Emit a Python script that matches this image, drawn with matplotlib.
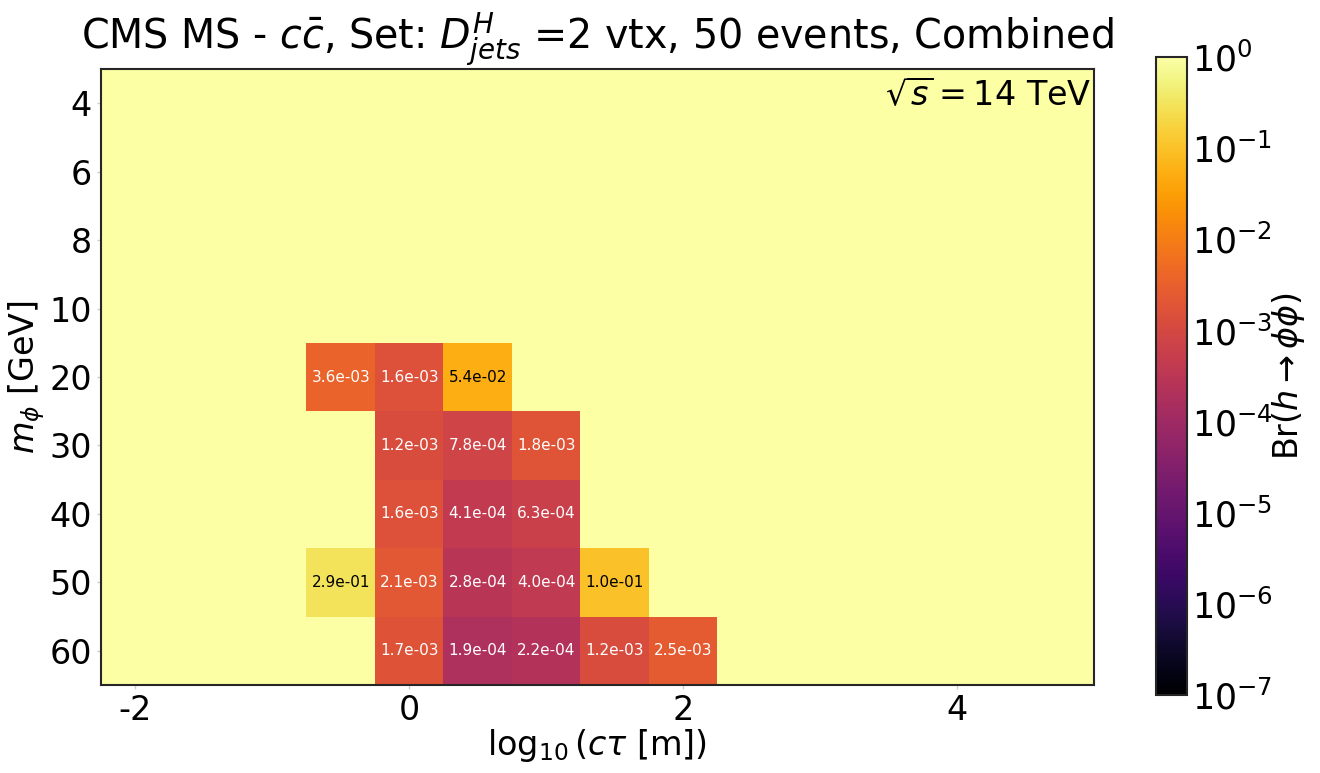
import numpy as np
import matplotlib
matplotlib.use("Agg")
import matplotlib.pyplot as plt
from matplotlib.colors import LogNorm

plt.rcParams['font.family'] = ['DejaVu Sans']
plt.rcParams['axes.unicode_minus'] = False

# ---- data ----
masses = [4, 6, 8, 10, 20, 30, 40, 50, 60]          # GeV, rows top->bottom
log_ctau = [-2.0, -1.5, -1.0, -0.5, 0.0, 0.5, 1.0, 1.5, 2.0,
            2.5, 3.0, 3.5, 4.0, 4.5, 5.0]            # column centres
# non-trivial limits: (mass, log10 ctau) -> Br
br_m20 = {-0.5: 3.6e-03, 0.0: 1.6e-03, 0.5: 5.4e-02}
br_m30 = {0.0: 1.2e-03, 0.5: 7.8e-04, 1.0: 1.8e-03}
br_m40 = {0.0: 1.6e-03, 0.5: 4.1e-04, 1.0: 6.3e-04}
br_m50 = {-0.5: 2.9e-01, 0.0: 2.1e-03, 0.5: 2.8e-04, 1.0: 4.0e-04, 1.5: 1.0e-01}
br_m60 = {0.0: 1.7e-03, 0.5: 1.9e-04, 1.0: 2.2e-04, 1.5: 1.2e-03, 2.0: 2.5e-03}
row_limits = {20: br_m20, 30: br_m30, 40: br_m40, 50: br_m50, 60: br_m60}
default_br = 1.0

x_ticks = [-2, 0, 2, 4]

# ---- build grid ----
Z = np.full((len(masses), len(log_ctau)), default_br)
for i, m in enumerate(masses):
    for xc, v in row_limits.get(m, {}).items():
        j = log_ctau.index(xc)
        Z[i, j] = v

xc_arr = np.array(log_ctau)
x_edges = np.concatenate([xc_arr - 0.25, [xc_arr[-1] + 0.25]])
y_edges = np.arange(len(masses) + 1) - 0.5

fig = plt.figure(figsize=(13.2, 7.73), dpi=100)
ax = fig.add_axes([101/1320, (773-685)/773, (1094-101)/1320, (685-69)/773])
cax = fig.add_axes([1156/1320, (773-695)/773, 31/1320, (695-57)/773])

norm = LogNorm(vmin=1e-7, vmax=1.0)
mesh = ax.pcolormesh(x_edges, y_edges, Z, cmap='inferno', norm=norm)
ax.set_xlim(-2.25, 5.0)
ax.set_ylim(len(masses) - 0.5, -0.5)

for i, m in enumerate(masses):
    for xc, v in row_limits.get(m, {}).items():
        col = 'black' if v > 1e-2 else 'white'
        ax.text(xc, i, f"{v:.1e}", ha='center', va='center', fontsize=11, color=col)

ax.set_xticks(x_ticks)
ax.set_xticklabels([str(t) for t in x_ticks])
ax.set_yticks(range(len(masses)))
ax.set_yticklabels([str(m) for m in masses])
ax.tick_params(axis='both', labelsize=24, length=3, color='#cccccc', width=1)
for s in ax.spines.values():
    s.set_color('#262626')
    s.set_linewidth(1.5)

ax.set_xlabel(r'$\log_{10}(c\tau$ [m])', fontsize=24, labelpad=0)
ax.set_ylabel(r'$m_{\phi}$ [GeV]', fontsize=24, labelpad=2)
ax.set_title(r'CMS MS - $c\bar{c}$, Set: $D^{H}_{jets}$ =2 vtx, 50 events, Combined',
             fontsize=28.5, pad=10)
ax.text(0.998, 0.985, r'$\sqrt{s} = 14$ TeV', transform=ax.transAxes,
        ha='right', va='top', fontsize=24)

cb = fig.colorbar(mesh, cax=cax)
cb.set_label(r'Br$(h\to\phi\phi)$', fontsize=24, labelpad=-2)
cb.ax.tick_params(labelsize=25, length=0)
cb.ax.minorticks_off()
cb.outline.set_color('#262626')
cb.outline.set_linewidth(1.5)

fig.savefig('out.png', dpi=100)
